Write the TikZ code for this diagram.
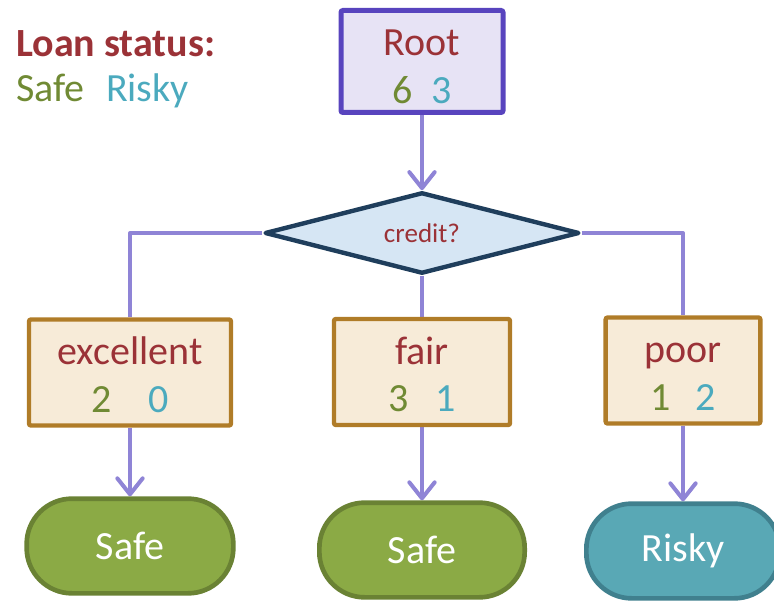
\documentclass[tikz,border=0pt]{standalone}
\usepackage{fontspec}
\setmainfont{Carlito}
\usetikzlibrary{shapes.geometric}
\usetikzlibrary{arrows.meta}
\usetikzlibrary{backgrounds}
\usetikzlibrary{positioning}

\definecolor{titlered}{RGB}{155,50,55}
\definecolor{safegreen}{RGB}{112,138,52}
\definecolor{riskyteal}{RGB}{75,170,190}
\definecolor{rootline}{RGB}{88,68,190}
\definecolor{rootfill}{RGB}{231,227,245}
\definecolor{qline}{RGB}{31,62,92}
\definecolor{qfill}{RGB}{214,230,244}
\definecolor{branchline}{RGB}{176,124,40}
\definecolor{branchfill}{RGB}{247,235,216}
\definecolor{linkpurple}{RGB}{143,132,214}
\definecolor{leafgreen}{RGB}{139,170,69}
\definecolor{leafgreenline}{RGB}{106,130,52}
\definecolor{leafteal}{RGB}{89,168,181}
\definecolor{leaftealline}{RGB}{64,128,142}

\newcommand{\counts}[3]{\textcolor{safegreen}{#1}\hspace{#3}\textcolor{riskyteal}{#2}}
\newcommand{\toprow}{\rule{0pt}{24pt}}

\tikzset{
  big/.style={font=\fontsize{30}{35.5}\selectfont},
  rootbox/.style={rectangle, draw=rootline, fill=rootfill, line width=3.75pt,
    rounded corners=1.5pt, inner sep=0pt, minimum width=121.5pt,
    minimum height=76.5pt, align=center, big, text=titlered},
  question/.style={diamond, aspect=3.9, draw=qline, fill=qfill, line width=3.3pt,
    line join=round, inner sep=0pt, minimum width=236pt, minimum height=61pt,
    text=titlered, font=\fontsize{20.3}{24}\selectfont},
  branch/.style={rectangle, draw=branchline, fill=branchfill, line width=3.3pt,
    rounded corners=1.5pt, inner sep=0pt, minimum height=79.5pt,
    align=center, big, text=titlered},
  leaf/.style={rectangle, rounded corners=34pt, line width=3.5pt, inner sep=0pt,
    minimum height=71pt, big, text=white},
  safeleaf/.style={leaf, draw=leafgreenline, fill=leafgreen},
  riskyleaf/.style={leaf, draw=leaftealline, fill=leafteal},
  link/.style={draw=linkpurple, line width=3pt, line join=round},
  flow/.style={link, -{Straight Barb[length=12pt,width=19pt,round]}}
}

\begin{document}
\begin{tikzpicture}[x=0.75pt, y=-0.75pt]
\useasboundingbox (0,0) rectangle (774,602);

% legend
\node[anchor=base west, inner sep=0pt, text=titlered,
  font=\fontsize{30}{35.5}\selectfont\bfseries] (status) at (16,57) {Loan status:};
\node[anchor=base west, inner sep=0pt, big] (classes) at (16,102)
  {\counts{Safe}{Risky}{16pt}};

% root and split
\node[rootbox] (root) at (422,61.5) {\rule{0pt}{27pt}Root\\\counts{6}{3}{14.5pt}};
\node[question] (credit) at (422,233) {credit?};

% branches
\node[branch, minimum width=151.5pt] (excellent) at (130,372.5)
  {\toprow excellent\\\counts{2}{0}{28pt}};
\node[branch, minimum width=132pt] (fair) at (422,372)
  {\toprow fair\\\counts{3}{1}{20.5pt}};
\node[branch, minimum width=116pt] (poor) at (683,370.5)
  {\toprow poor\\\counts{1}{2}{19pt}};

% predictions
\node[safeleaf, minimum width=155pt] (safeA) at (130,546) {Safe};
\node[safeleaf, minimum width=154pt] (safeB) at (422,550) {Safe};
\node[riskyleaf, minimum width=145pt] (risky) at (683,551) {Risky};

% connectors
\begin{scope}[on background layer]
\draw[flow] (root.south) -- (credit.north);
\draw[link] (credit.west) -| (excellent.north);
\draw[link] (credit.south) -- (fair.north);
\draw[link] (credit.east) -| (poor.north);
\draw[flow] (excellent.south) -- (safeA.north);
\draw[flow] (fair.south) -- (safeB.north);
\draw[flow] (poor.south) -- (risky.north);
\end{scope}
\end{tikzpicture}
\end{document}
